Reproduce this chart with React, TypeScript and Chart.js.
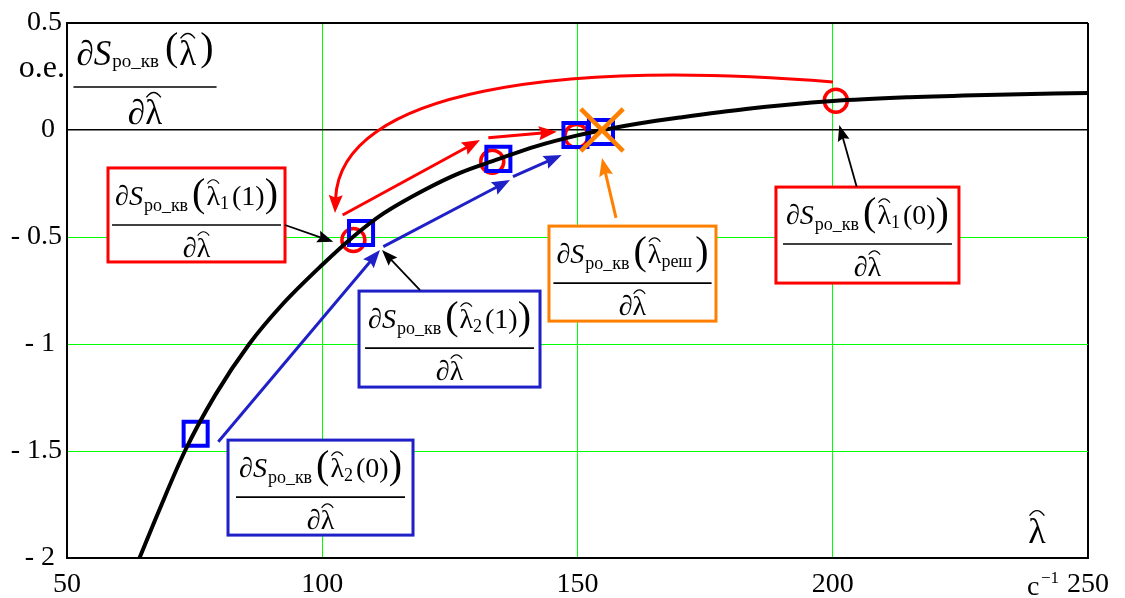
import React, { useEffect, useRef } from "react";
import { Chart, registerables } from "chart.js";

Chart.register(...registerables);

const SERIF = '"Liberation Serif", "Times New Roman", Times, serif';
Chart.defaults.font.family = SERIF;

// axis ticks
const xTickValues = [50, 100, 150, 200, 250];
const yTickValues = [-2, -1.5, -1, -0.5, 0, 0.5];

// curve dS/dλ
const curveLambda = [64.2, 68, 73.1, 79, 85.7, 92, 100, 106, 112, 120, 127, 134, 142, 150, 155, 162, 170, 183, 200, 215, 230, 250];
const curveDeriv = [-2.0, -1.78, -1.5, -1.24, -1.0, -0.82, -0.63, -0.5, -0.39, -0.28, -0.2, -0.14, -0.075, -0.025, 0, 0.03, 0.058, 0.098, 0.135, 0.153, 0.164, 0.173];

// iterations (red circles: λ1, blue squares: λ2, orange cross: solution)
const lambda1Iter = [200.6, 106.1, 133.3, 149.8];
const lambda1Deriv = [0.137, -0.514, -0.148, -0.028];
const lambda2Iter = [75.2, 107.6, 134.5, 149.6, 154.6];
const lambda2Deriv = [-1.419, -0.481, -0.135, -0.023, -0.009];
const solutionLambda = [154.8];
const solutionDeriv = [0];

// annotations (data coordinates)
const redArc = [200.05, 0.224, 146.57, 0.327, 103.48, 0.187, 102.5, -0.388];
const redArrows = [
  [104.0, -0.397, 130.9, -0.047],
  [132.53, -0.036, 145.93, -0.008],
];
const blueArrows = [
  [79.64, -1.457, 111.31, -0.561],
  [111.96, -0.545, 136.78, -0.234],
  [137.36, -0.218, 146.9, -0.117],
];
const blackArrows = [
  [92.7, -0.444, 102.16, -0.522],
  [119.15, -0.748, 111.7, -0.561],
  [204.69, -0.265, 201.28, 0.023],
];
const orangeArrow = [157.54, -0.411, 154.8, -0.131];

const RED = "#ff0000";
const BLUE = "#0000ff";
const BLUE2 = "#2020c8";
const ORANGE = "#ff8000";
const GREEN = "#00ff00";

const boxes = [
  { cx: 75.37, cy: -0.397, w: 177, h: 94, color: RED, sub: "1", arg: "(1)" },
  { cx: 99.66, cy: -1.671, w: 185, h: 95, color: BLUE2, sub: "2", arg: "(0)" },
  { cx: 124.93, cy: -0.977, w: 181, h: 96, color: BLUE2, sub: "2", arg: "(1)" },
  { cx: 160.77, cy: -0.671, w: 167, h: 95, color: ORANGE, sub: "реш", arg: "" },
  { cx: 206.8, cy: -0.491, w: 183, h: 96, color: RED, sub: "1", arg: "(0)" },
];

type Piece = { t: string; font: string; dy: number; gap: number; hat?: boolean; size?: number; w?: number };

const fnt = (size: number, italic = false) => `${italic ? "italic " : ""}${size}px ${SERIF}`;

function drawHat(ctx: CanvasRenderingContext2D, cx: number, base: number, w: number, F: number) {
  ctx.save();
  ctx.strokeStyle = "#000";
  ctx.lineWidth = Math.max(1, F / 26);
  const y0 = base - 0.76 * F;
  ctx.beginPath();
  ctx.moveTo(cx - w / 2, y0);
  ctx.quadraticCurveTo(cx, y0 - 0.28 * F, cx + w / 2, y0);
  ctx.stroke();
  ctx.restore();
}

function measure(ctx: CanvasRenderingContext2D, pieces: Piece[]) {
  let w = 0;
  for (const p of pieces) {
    ctx.font = p.font;
    p.w = ctx.measureText(p.t).width;
    w += p.gap + p.w;
  }
  return w;
}

function drawRun(ctx: CanvasRenderingContext2D, pieces: Piece[], x: number, base: number) {
  for (const p of pieces) {
    x += p.gap;
    ctx.font = p.font;
    ctx.fillText(p.t, x, base + p.dy);
    if (p.hat) drawHat(ctx, x + (p.w as number) / 2, base, (p.w as number) * 0.85, p.size as number);
    x += p.w as number;
  }
}

type FracOpt = {
  F: number; fs: number; big: number; subDy: number; idxDy: number; parenDy: number;
  numOff: number; denOff: number; sub?: string; arg?: string;
};

function drawFraction(ctx: CanvasRenderingContext2D, cx: number, lineY: number, o: FracOpt) {
  const num: Piece[] = [
    { t: "∂S", font: fnt(o.F, true), dy: 0, gap: 0 },
    { t: "ро_кв", font: fnt(o.fs), dy: o.subDy, gap: 1 },
    { t: "(", font: fnt(o.big), dy: o.parenDy, gap: Math.round(o.F * 0.16) },
    { t: "λ", font: fnt(o.F), dy: 0, gap: 1, hat: true, size: o.F },
  ];
  if (o.sub) num.push({ t: o.sub, font: fnt(o.fs), dy: o.idxDy, gap: 0 });
  if (o.arg) num.push({ t: o.arg, font: fnt(o.F), dy: 0, gap: Math.round(o.F * 0.1) });
  num.push({ t: ")", font: fnt(o.big), dy: o.parenDy, gap: o.arg ? 0 : Math.round(o.F * 0.12) });
  const den: Piece[] = [
    { t: "∂", font: fnt(o.F, true), dy: 0, gap: 0 },
    { t: "λ", font: fnt(o.F), dy: 0, gap: 0, hat: true, size: o.F },
  ];
  ctx.save();
  ctx.fillStyle = "#000";
  ctx.textAlign = "left";
  ctx.textBaseline = "alphabetic";
  const wn = measure(ctx, num);
  const wd = measure(ctx, den);
  drawRun(ctx, num, cx - wn / 2, lineY + o.numOff);
  drawRun(ctx, den, cx - wd / 2, lineY + o.denOff);
  ctx.strokeStyle = "#000";
  ctx.lineWidth = 1.6;
  ctx.beginPath();
  ctx.moveTo(cx - wn / 2 - 3, lineY);
  ctx.lineTo(cx + wn / 2 + 3, lineY);
  ctx.stroke();
  ctx.restore();
}

function arrowHead(ctx: CanvasRenderingContext2D, tx: number, ty: number, ang: number, len: number, hw: number, color: string) {
  const c = Math.cos(ang), s = Math.sin(ang);
  ctx.save();
  ctx.fillStyle = color;
  ctx.beginPath();
  ctx.moveTo(tx, ty);
  ctx.lineTo(tx - len * c + hw * s, ty - len * s - hw * c);
  ctx.lineTo(tx - len * c * 0.85, ty - len * s * 0.85);
  ctx.lineTo(tx - len * c - hw * s, ty - len * s + hw * c);
  ctx.closePath();
  ctx.fill();
  ctx.restore();
}

function straightArrow(ctx: CanvasRenderingContext2D, x0: number, y0: number, x1: number, y1: number, color: string, lw: number, len: number, hw: number) {
  const ang = Math.atan2(y1 - y0, x1 - x0);
  ctx.save();
  ctx.strokeStyle = color;
  ctx.lineWidth = lw;
  ctx.lineCap = "butt";
  ctx.beginPath();
  ctx.moveTo(x0, y0);
  ctx.lineTo(x1 - (len * 0.8) * Math.cos(ang), y1 - (len * 0.8) * Math.sin(ang));
  ctx.stroke();
  ctx.restore();
  arrowHead(ctx, x1, y1, ang, len, hw, color);
}

const annotPlugin = {
  id: "annot",
  afterDatasetsDraw(chart: any) {
    const ctx: CanvasRenderingContext2D = chart.ctx;
    const xs = chart.scales.x, ys = chart.scales.y;
    const X = (v: number) => xs.getPixelForValue(v);
    const Y = (v: number) => ys.getPixelForValue(v);
    const area = chart.chartArea;

    // boxes with formulas
    for (const b of boxes) {
      const cx = X(b.cx), cy = Y(b.cy);
      const left = cx - b.w / 2, top = cy - b.h / 2;
      ctx.save();
      ctx.fillStyle = "#fff";
      ctx.fillRect(left, top, b.w, b.h);
      ctx.strokeStyle = b.color;
      ctx.lineWidth = 3;
      ctx.strokeRect(left, top, b.w, b.h);
      ctx.restore();
      drawFraction(ctx, cx, top + 57, {
        F: 28, fs: 18, big: 40, subDy: 6, idxDy: 4, parenDy: 1,
        numOff: -20, denOff: 32, sub: b.sub, arg: b.arg,
      });
    }

    // red arc arrow
    {
      const p = redArc;
      const P0x = X(p[0]), P0y = Y(p[1]), P1x = X(p[2]), P1y = Y(p[3]);
      const P2x = X(p[4]), P2y = Y(p[5]), P3x = X(p[6]), P3y = Y(p[7]);
      const ang = Math.atan2(P3y - P2y, P3x - P2x);
      const len = 18;
      ctx.save();
      ctx.strokeStyle = RED;
      ctx.lineWidth = 3;
      ctx.beginPath();
      ctx.moveTo(P0x, P0y);
      ctx.bezierCurveTo(P1x, P1y, P2x, P2y, P3x - len * 0.8 * Math.cos(ang), P3y - len * 0.8 * Math.sin(ang));
      ctx.stroke();
      ctx.restore();
      arrowHead(ctx, P3x, P3y, ang, len, 7, RED);
    }
    for (const a of redArrows) straightArrow(ctx, X(a[0]), Y(a[1]), X(a[2]), Y(a[3]), RED, 3, 18, 7);
    for (const a of blueArrows) straightArrow(ctx, X(a[0]), Y(a[1]), X(a[2]), Y(a[3]), BLUE2, 3, 18, 7);
    for (const a of blackArrows) straightArrow(ctx, X(a[0]), Y(a[1]), X(a[2]), Y(a[3]), "#000", 1.8, 16, 6);
    straightArrow(ctx, X(orangeArrow[0]), Y(orangeArrow[1]), X(orangeArrow[2]), Y(orangeArrow[3]), ORANGE, 3, 18, 7);

    // y-axis title formula
    drawFraction(ctx, X(65.28), Y(0.201), {
      F: 35, fs: 19, big: 40, subDy: 2, idxDy: 4, parenDy: -5,
      numOff: -22, denOff: 37,
    });

    ctx.save();
    ctx.fillStyle = "#000";
    ctx.textBaseline = "alphabetic";
    // unit "o.e."
    ctx.font = fnt(32);
    ctx.textAlign = "right";
    ctx.fillText("o.e.", area.left - 2, Y(0.25));
    // x-axis label λ̂
    ctx.font = fnt(36);
    ctx.textAlign = "center";
    const lx = X(240), ly = Y(-1.93);
    ctx.fillText("λ", lx, ly);
    const lw = ctx.measureText("λ").width;
    drawHat(ctx, lx, ly, lw * 0.85, 36);
    // unit c^-1
    ctx.textAlign = "left";
    ctx.font = fnt(28);
    const ux = X(250) - 61, uy = area.bottom + 37;
    ctx.fillText("c", ux, uy);
    ctx.font = fnt(17);
    ctx.fillText("−1", ux + 14, uy - 12);
    ctx.restore();
  },
};

function formatY(v: number) {
  const s = v < 0 ? "- " + String(Math.abs(v)) : String(v);
  return Number.isInteger(v) ? s + " " : s;
}

export default function App() {
  const ref = useRef<HTMLCanvasElement | null>(null);
  useEffect(() => {
    if (!ref.current) return;
    const tickFont = { family: SERIF, size: 28, style: "normal" as const, weight: "normal" as const };
    const chart = new Chart(ref.current, {
      type: "scatter",
      data: {
        datasets: [
          {
            label: "solution",
            data: solutionLambda.map((x, i) => ({ x, y: solutionDeriv[i] })),
            pointStyle: "crossRot",
            pointRadius: 30,
            borderWidth: 4.5,
            borderColor: ORANGE,
            backgroundColor: "transparent",
            showLine: false,
          } as any,
          {
            label: "curve",
            data: curveLambda.map((x, i) => ({ x, y: curveDeriv[i] })),
            showLine: true,
            borderColor: "#000",
            borderWidth: 4,
            pointRadius: 0,
            cubicInterpolationMode: "monotone",
            fill: false,
          } as any,
          {
            label: "lambda2",
            data: lambda2Iter.map((x, i) => ({ x, y: lambda2Deriv[i] })),
            pointStyle: "rect",
            pointRadius: 17,
            borderWidth: 4,
            borderColor: BLUE,
            backgroundColor: "transparent",
            showLine: false,
          } as any,
          {
            label: "lambda1",
            data: lambda1Iter.map((x, i) => ({ x, y: lambda1Deriv[i] })),
            pointStyle: "circle",
            pointRadius: 11.5,
            borderWidth: 3.5,
            borderColor: RED,
            backgroundColor: "transparent",
            showLine: false,
          } as any,
        ],
      },
      options: {
        responsive: false,
        maintainAspectRatio: false,
        animation: false,
        events: [],
        layout: { autoPadding: false, padding: { left: 0, right: 37, top: 23, bottom: 0 } },
        plugins: { legend: { display: false }, tooltip: { enabled: false }, title: { display: false } },
        scales: {
          x: {
            type: "linear",
            min: 50,
            max: 250,
            afterBuildTicks: (s: any) => { s.ticks = xTickValues.map((v) => ({ value: v })); },
            afterFit: (s: any) => { s.height = 40; s.paddingLeft = 0; s.paddingRight = 0; },
            ticks: { font: tickFont, color: "#000", padding: 10, maxRotation: 0, autoSkip: false, callback: (v: any) => String(v) },
            grid: {
              drawTicks: false,
              color: (c: any) => (c.tick && c.tick.value === 250 ? "#000" : c.tick && c.tick.value === 50 ? "rgba(0,0,0,0)" : GREEN),
              lineWidth: (c: any) => (c.tick && c.tick.value === 250 ? 2 : 1),
            },
            border: { display: true, color: "#000", width: 2 },
          },
          y: {
            type: "linear",
            min: -2,
            max: 0.5,
            afterBuildTicks: (s: any) => { s.ticks = yTickValues.map((v) => ({ value: v })); },
            afterFit: (s: any) => { s.width = 67; s.paddingTop = 0; s.paddingBottom = 0; },
            ticks: { font: tickFont, color: "#000", padding: 5, autoSkip: false, callback: (v: any) => formatY(Number(v)) },
            grid: {
              drawTicks: false,
              color: (c: any) => {
                const v = c.tick ? c.tick.value : null;
                if (v === 0.5 || v === 0) return "#000";
                if (v === -2) return "rgba(0,0,0,0)";
                return GREEN;
              },
              lineWidth: (c: any) => {
                const v = c.tick ? c.tick.value : null;
                if (v === 0.5) return 2;
                if (v === 0) return 1.6;
                return 1;
              },
            },
            border: { display: true, color: "#000", width: 2 },
          },
        },
      } as any,
      plugins: [annotPlugin],
    });
    return () => chart.destroy();
  }, []);
  return (
    <div style={{ position: "fixed", left: 0, top: 0, width: 1125, height: 598, background: "#fff" }}>
      <canvas ref={ref} width={1125} height={598} style={{ display: "block", width: 1125, height: 598 }} />
    </div>
  );
}
